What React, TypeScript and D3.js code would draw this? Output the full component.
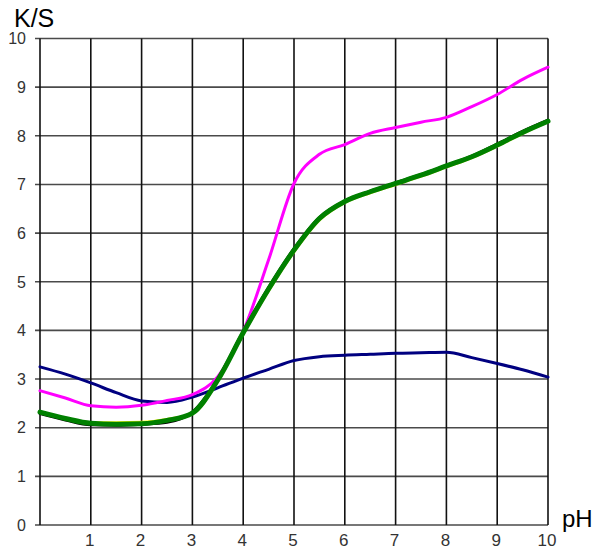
import React from "react";
import * as d3 from "d3";

const pH = [0, 0.5, 1, 1.5, 2, 2.5, 3, 3.5, 4, 4.5, 5, 5.5, 6, 6.5, 7, 7.5, 8, 8.5, 9, 9.5, 10];
const navy = [3.25, 3.1, 2.92, 2.72, 2.55, 2.52, 2.63, 2.82, 3.02, 3.2, 3.38, 3.46, 3.49, 3.51, 3.53, 3.54, 3.55, 3.44, 3.32, 3.19, 3.04];
const magenta = [2.76, 2.61, 2.45, 2.42, 2.46, 2.56, 2.68, 3.05, 3.98, 5.45, 7.02, 7.62, 7.82, 8.05, 8.17, 8.28, 8.38, 8.6, 8.85, 9.16, 9.41];
const black = [2.29, 2.16, 2.06, 2.05, 2.07, 2.11, 2.32, 3.0, 3.98, 4.88, 5.68, 6.32, 6.66, 6.86, 7.03, 7.2, 7.39, 7.58, 7.83, 8.09, 8.32];
const yellow = [2.31, 2.19, 2.1, 2.1, 2.11, 2.17, 2.29, 2.96, 3.93, 4.82, 5.62, 6.27, 6.63, 6.83, 7.0, 7.17, 7.36, 7.55, 7.79, 8.05, 8.29];
const green = [2.32, 2.19, 2.09, 2.07, 2.08, 2.15, 2.3, 2.98, 3.95, 4.85, 5.65, 6.3, 6.65, 6.85, 7.02, 7.19, 7.38, 7.57, 7.81, 8.07, 8.3];

const xTicks = [1, 2, 3, 4, 5, 6, 7, 8, 9, 10];
const yTicks = [0, 1, 2, 3, 4, 5, 6, 7, 8, 9, 10];

const series = [
  { name: "navy", values: navy, color: "#000080", width: 3 },
  { name: "magenta", values: magenta, color: "#ff00ff", width: 3 },
  { name: "black", values: black, color: "#000000", width: 3 },
  { name: "yellow", values: yellow, color: "#ffff00", width: 3 },
  { name: "green", values: green, color: "#008000", width: 5 },
];

export default function App() {
  const x = d3.scaleLinear().domain([0, 10]).range([40, 548]);
  const y = d3.scaleLinear().domain([0, 10]).range([525, 38.5]);
  const line = d3
    .line<number>()
    .x((_, i) => x(pH[i]))
    .y((d) => y(d))
    .curve(d3.curveMonotoneX);
  const font = "Arial, 'Liberation Sans', sans-serif";
  return (
    <svg
      width={595}
      height={551}
      style={{ position: "absolute", left: 0, top: 0, display: "block", background: "#fff" }}
    >
      {yTicks.map((t) => (
        <line key={"h" + t} x1={35} x2={548} y1={y(t)} y2={y(t)} stroke="#4a4a4a" strokeWidth={1.6} />
      ))}
      {[0, ...xTicks].map((t) => (
        <line key={"v" + t} x1={x(t)} x2={x(t)} y1={y(10)} y2={y(0)} stroke="#111" strokeWidth={1.6} />
      ))}
      {yTicks.map((t) => (
        <text key={"yl" + t} x={26} y={y(t)} dy="0.36em" textAnchor="end" fontFamily={font} fontSize={16} fill="#333">
          {t}
        </text>
      ))}
      {xTicks.map((t) => (
        <text key={"xl" + t} x={x(t) - 1} y={546} textAnchor="middle" fontFamily={font} fontSize={17} fill="#333">
          {t}
        </text>
      ))}
      <text x={14} y={27} fontFamily={font} fontSize={25} fill="#000">K/S</text>
      <text x={562} y={527} fontFamily={font} fontSize={24} fill="#000">pH</text>
      {series.map((s) => (
        <path
          key={s.name}
          d={line(s.values) || ""}
          fill="none"
          stroke={s.color}
          strokeWidth={s.width}
          strokeLinejoin="round"
          strokeLinecap="round"
        />
      ))}
    </svg>
  );
}
